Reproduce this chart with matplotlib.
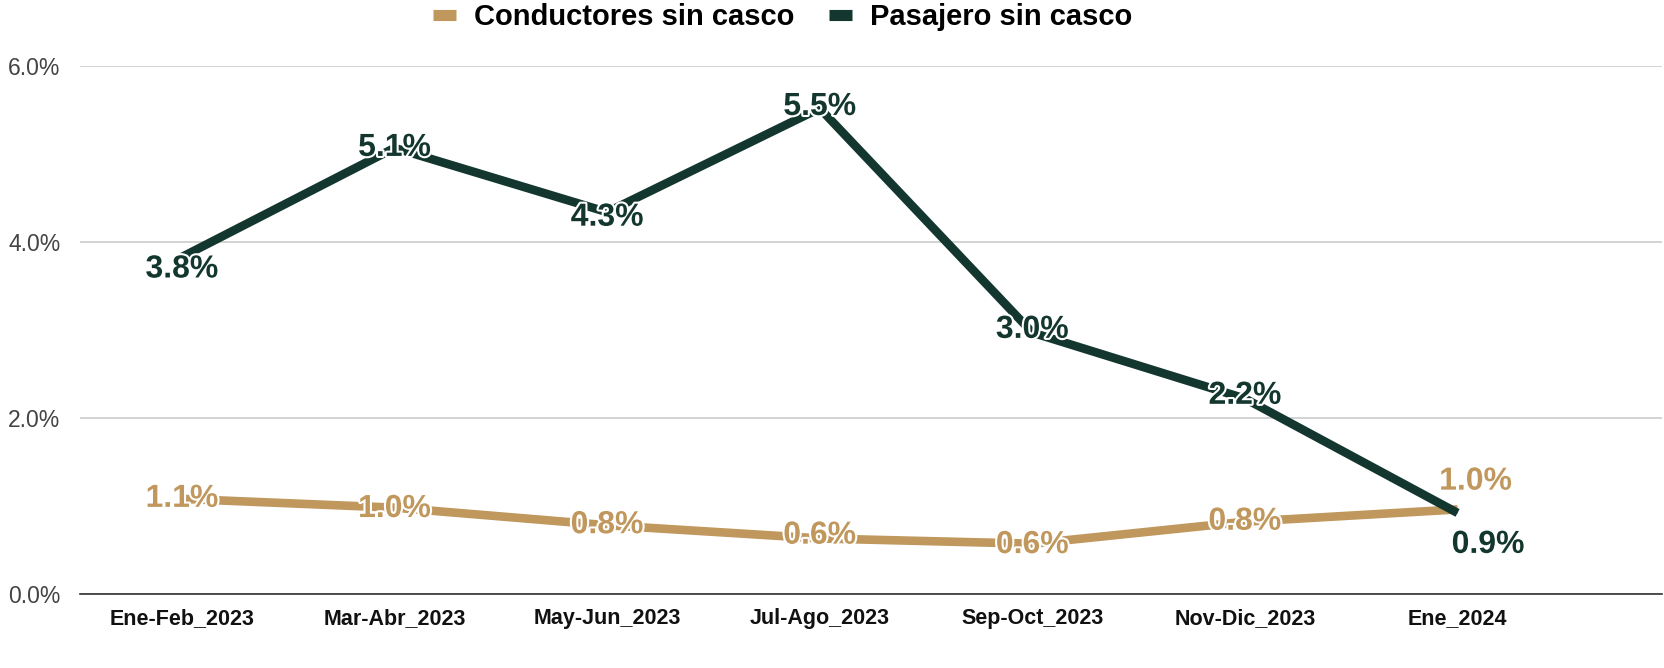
import matplotlib.pyplot as plt
import matplotlib.patheffects as pe
from matplotlib.lines import Line2D

plt.rcParams['font.family'] = ['Liberation Sans', 'DejaVu Sans']

# data
periodos = ['Ene-Feb_2023', 'Mar-Abr_2023', 'May-Jun_2023', 'Jul-Ago_2023',
            'Sep-Oct_2023', 'Nov-Dic_2023', 'Ene_2024']
conductores = [1.08, 0.98, 0.78, 0.63, 0.57, 0.82, 0.96]
pasajeros = [3.83, 5.07, 4.34, 5.52, 2.97, 2.22, 0.92]
y_ticks = [0, 2, 4, 6]

c_cond = '#C0975C'
c_pas = '#13372E'

fig = plt.figure(figsize=(16.65, 6.68), dpi=100)
ax = fig.add_axes([0.048, 0.111, 0.95, 0.79])

x = list(range(len(periodos)))
ax.plot(x, conductores, color=c_cond, lw=6.2, solid_capstyle='butt', zorder=3)
ax.plot(x, pasajeros, color=c_pas, lw=6.2, solid_capstyle='butt', zorder=3)

halo = [pe.withStroke(linewidth=3, foreground='white')]
# label offsets in points (dx, dy), mostly centered on the point
off_pas = [(0, -9), (0, 0), (0, -4), (0, 1), (0, 2), (0, 2), (22, -23)]
off_cond = [(0, 0), (0, -1), (0, 0), (0, 2), (0, -1), (0, 0), (13, 20)]
for i in x:
    ax.annotate(f'{pasajeros[i]:.1f}%', (i, pasajeros[i]), xytext=off_pas[i],
                textcoords='offset points', ha='center', va='center',
                fontsize=23, fontweight='bold', color=c_pas,
                path_effects=halo, zorder=4)
    ax.annotate(f'{conductores[i]:.1f}%', (i, conductores[i]), xytext=off_cond[i],
                textcoords='offset points', ha='center', va='center',
                fontsize=23, fontweight='bold', color=c_cond,
                path_effects=halo, zorder=4)

ax.set_xlim(-0.48, 6.96)
ax.set_ylim(0, 6)
ax.set_yticks(y_ticks)
ax.set_yticklabels([f'{v:.1f}%' for v in y_ticks], fontsize=16.5, color='#444444')
ax.set_xticks(x)
ax.set_xticklabels(periodos, fontsize=15.5, fontweight='bold', color='#111111')
ax.tick_params(length=0, axis='y', pad=14)
ax.tick_params(length=0, axis='x', pad=10)
ax.grid(axis='y', color='#cccccc', lw=1.2)
ax.set_axisbelow(True)
for s in ['top', 'right', 'left']:
    ax.spines[s].set_visible(False)
ax.spines['bottom'].set_color('#333333')
ax.spines['bottom'].set_linewidth(1.2)

handles = [Line2D([], [], color=c_cond, lw=8, solid_capstyle='butt'),
           Line2D([], [], color=c_pas, lw=8, solid_capstyle='butt')]
fig.legend(handles, ['Conductores sin casco', 'Pasajero sin casco'],
           loc='upper center', bbox_to_anchor=(0.47, 1.035), ncol=2, frameon=False,
           prop={'size': 21, 'weight': 'bold'}, handlelength=0.8,
           handletextpad=0.6, columnspacing=1.2)

fig.savefig('out.png', dpi=100)
